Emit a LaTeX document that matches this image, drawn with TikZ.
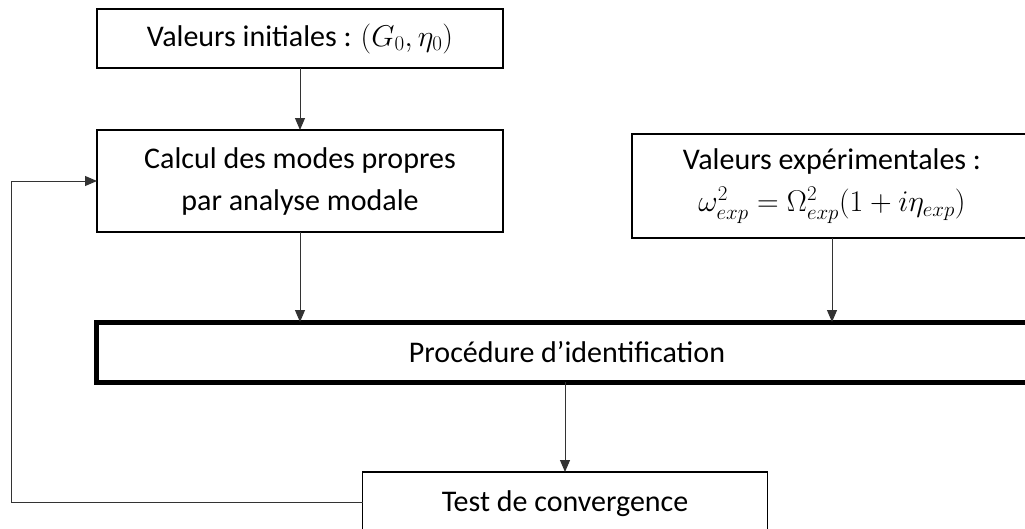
\RequirePackage{fix-cm}
\documentclass[tikz,border=0pt]{standalone}
\usepackage{fontspec}
\setmainfont{Carlito}
\usepackage{tikz}
\usetikzlibrary{positioning,arrows.meta}

\begin{document}
\begin{tikzpicture}[x=1pt,y=-1pt]
  \tikzset{BoxStyle/.style = {
    shape         = rectangle,
    draw          = black,
    fill          = white,
    line width    = 1.8pt,
    text          = black,
    align         = center,
    inner sep     = 2pt,
    outer sep     = 0pt,
    font          = \fontsize{30}{42}\selectfont
    }
  }
  \tikzset{BoxStyleBold/.style = {
    BoxStyle,
    line width    = 5pt
    }
  }
  \tikzset{ArrowStyle/.style = {
    draw          = black!80,
    line width    = 1pt,
    -{Triangle[length=12pt,width=10pt]}
    }
  }

  \useasboundingbox (0,0) rectangle (1025,528);
  \clip (0,0) rectangle (1025,528);

	\node[BoxStyle, minimum width=406pt, minimum height=59pt](init) at (300, 38.5) {Valeurs initiales : $(G_0, \eta_0)$};
	\node[BoxStyle, minimum width=406pt, minimum height=102pt](modes) at (300, 181) {Calcul des modes propres\\par analyse modale};
	\node[BoxStyle, minimum width=400pt, minimum height=104pt](expe) at (832, 186) {Valeurs expérimentales :\\$\omega^2_{exp} = \Omega^2_{exp}\bigl(1 + i\eta_{exp}\bigr)$};
	\node[BoxStyleBold, minimum width=942pt, minimum height=60pt](ident) at (567, 352) {Procédure d’identification};
	\node[BoxStyle, minimum width=405pt, minimum height=66pt](test) at (565, 505) {\raisebox{7pt}{Test de convergence}};
	\coordinate (loop) at (11, 502);

	\draw[ArrowStyle](init) -- (modes);
	\draw[ArrowStyle](modes.south) -- (modes.south |- ident.north);
	\draw[ArrowStyle](expe.south) -- (expe.south |- ident.north);
	\draw[ArrowStyle](test.north |- ident.south) -- (test.north);
	\draw[ArrowStyle](test.west |- loop) -- (loop) |- (modes.west);

  \end{tikzpicture}
\end{document}
